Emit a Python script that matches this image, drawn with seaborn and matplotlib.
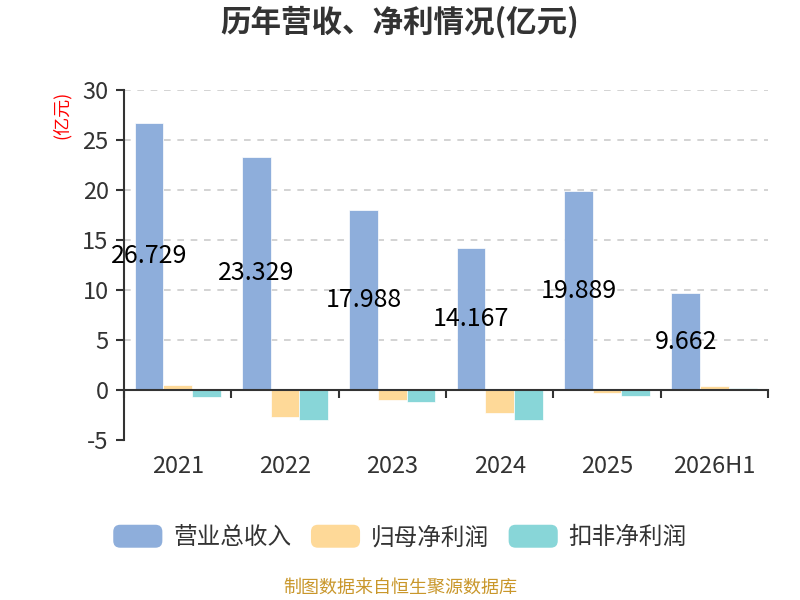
import numpy as np
import pandas as pd
import matplotlib
matplotlib.use("Agg")
import matplotlib.pyplot as plt
import seaborn as sns
from matplotlib.patches import FancyBboxPatch, Patch
from matplotlib.legend_handler import HandlerPatch

# data (亿元)
years = ['2021', '2022', '2023', '2024', '2025', '2026H1']
series = ['营业总收入', '归母净利润', '扣非净利润']
revenue = [26.729, 23.329, 17.988, 14.167, 19.889, 9.662]
net_profit = [0.5, -2.7, -1.0, -2.3, -0.25, 0.4]
net_profit_deducted = [-0.7, -3.0, -1.15, -3.0, -0.55, 0.25]
colors = ['#8eaedb', '#fed998', '#88d6d8']

df = pd.DataFrame({'年份': years, series[0]: revenue,
                   series[1]: net_profit, series[2]: net_profit_deducted})
long_df = df.melt(id_vars='年份', var_name='指标', value_name='值')

sns.set_style('white')
plt.rcParams['font.family'] = ['Noto Sans CJK SC', 'DejaVu Sans']
plt.rcParams['axes.unicode_minus'] = False

fig = plt.figure(figsize=(8, 6), dpi=100)
ax = fig.add_axes([124 / 800, 1 - 440 / 600, 644 / 800, 350 / 600])

sns.barplot(data=long_df, x='年份', y='值', hue='指标', palette=colors,
            width=0.8, ax=ax, legend=False, edgecolor='white', linewidth=0.5,
            saturation=1)

# labels in the middle of the revenue bars
for i, v in enumerate(revenue):
    ax.text(i - 0.8 / 3, v / 2, f'{v:.3f}', ha='center', va='center',
            fontsize=18, color='black')

ax.set_xlim(-0.5, len(years) - 0.5)
ax.set_ylim(-5, 30)
ax.set_yticks(range(-5, 31, 5))
ax.set_xlabel('')
ax.set_ylabel('')

ax.yaxis.grid(True, linestyle=(0, (4, 4)), color='#cccccc', linewidth=1.2)
ax.get_ygridlines()[0].set_visible(False)
ax.set_axisbelow(True)

for s in ['top', 'right']:
    ax.spines[s].set_visible(False)
ax.spines['left'].set_color('#333333')
ax.spines['left'].set_linewidth(1.5)
ax.spines['bottom'].set_position(('data', 0))
ax.spines['bottom'].set_color('#333333')
ax.spines['bottom'].set_linewidth(1.5)

ax.tick_params(axis='y', left=True, length=6, width=1.5, color='#333333',
               labelsize=17, labelcolor='#333333', pad=5)
ax.set_xticks(range(len(years)))
ax.set_xticks(np.arange(-0.5, len(years), 1), minor=True)
ax.tick_params(axis='x', which='major', bottom=True, length=0, labelsize=17,
               labelcolor='#333333', pad=47)
ax.tick_params(axis='x', which='minor', bottom=True, length=6, width=1.5,
               color='#333333', direction='out')


class RoundHandler(HandlerPatch):
    def create_artists(self, legend, orig_handle, xdescent, ydescent,
                       width, height, fontsize, trans):
        p = FancyBboxPatch((-xdescent, -ydescent), width, height,
                           boxstyle='round,pad=0,rounding_size=5',
                           facecolor=orig_handle.get_facecolor(),
                           edgecolor='none', transform=trans)
        return [p]


handles = [Patch(facecolor=c, label=s) for c, s in zip(colors, series)]
fig.legend(handles=handles, loc='center', bbox_to_anchor=(0.5, 1 - 537 / 600),
           ncol=3, frameon=False, fontsize=17, handlelength=2.08,
           handleheight=1.12, handletextpad=0.46, columnspacing=0.83,
           labelcolor='#333333',
           handler_map={Patch: RoundHandler()})

fig.text(0.5, 1 - 22 / 600, '历年营收、净利情况(亿元)', ha='center', va='center',
         fontsize=22, fontweight='bold', color='#333333')
fig.text(62 / 800, 1 - 115 / 600, '(亿元)', ha='center', va='center',
         rotation=90, fontsize=13, color='red')
fig.text(0.5, 1 - 588 / 600, '制图数据来自恒生聚源数据库', ha='center',
         va='center', fontsize=13, color='#c9972b')

fig.savefig('out.png', dpi=100)
